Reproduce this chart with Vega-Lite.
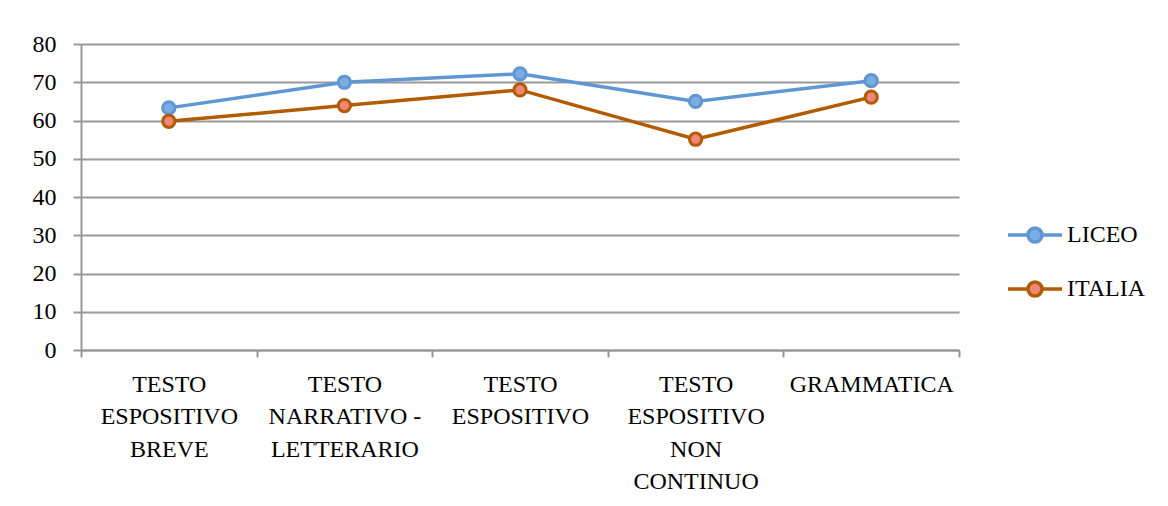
{
  "$schema": "https://vega.github.io/schema/vega-lite/v6.json",
  "width": 878,
  "height": 306,
  "autosize": {"type": "none"},
  "padding": {"left": 81, "top": 44, "right": 209, "bottom": 156},
  "background": "white",
  "config": {
    "view": {"stroke": null},
    "font": "Liberation Serif",
    "style": {"guide-label": {"font": "Liberation Serif", "fontSize": 24, "fill": "black"}},
    "legend": {"labelFont": "Liberation Serif"}
  },
  "data": {
    "values": [
      {"cat": "TESTO|ESPOSITIVO|BREVE", "serie": "LICEO", "value": 63.3},
      {"cat": "TESTO|NARRATIVO -|LETTERARIO", "serie": "LICEO", "value": 70.0},
      {"cat": "TESTO|ESPOSITIVO", "serie": "LICEO", "value": 72.2},
      {"cat": "TESTO|ESPOSITIVO|NON|CONTINUO", "serie": "LICEO", "value": 65.0},
      {"cat": "GRAMMATICA", "serie": "LICEO", "value": 70.4},
      {"cat": "TESTO|ESPOSITIVO|BREVE", "serie": "ITALIA", "value": 59.8},
      {"cat": "TESTO|NARRATIVO -|LETTERARIO", "serie": "ITALIA", "value": 63.9},
      {"cat": "TESTO|ESPOSITIVO", "serie": "ITALIA", "value": 68.0},
      {"cat": "TESTO|ESPOSITIVO|NON|CONTINUO", "serie": "ITALIA", "value": 55.1},
      {"cat": "GRAMMATICA", "serie": "ITALIA", "value": 66.1}
    ]
  },
  "encoding": {
    "x": {
      "field": "cat",
      "type": "nominal",
      "sort": null,
      "scale": {"paddingInner": 0, "paddingOuter": 0},
      "axis": {
        "title": null,
        "labelAngle": 0,
        "tickBand": "extent",
        "tickSize": 7,
        "tickColor": "#999999",
        "tickWidth": 2,
        "domainColor": "#999999",
        "domainWidth": 2,
        "labelFont": "Liberation Serif",
        "labelFontSize": 24,
        "labelColor": "black",
        "labelPadding": 15,
        "labelBaseline": "top",
        "labelLineHeight": 32.5,
        "labelLimit": 0,
        "labelExpr": "split(datum.label, '|')",
        "grid": false
      }
    },
    "y": {
      "field": "value",
      "type": "quantitative",
      "scale": {"domain": [0, 80]},
      "axis": {
        "title": null,
        "values": [0, 10, 20, 30, 40, 50, 60, 70, 80],
        "grid": true,
        "gridColor": "#999999",
        "gridWidth": 2,
        "tickSize": 8,
        "tickColor": "#999999",
        "tickWidth": 2,
        "domainColor": "#999999",
        "domainWidth": 2,
        "labelFont": "Liberation Serif",
        "labelFontSize": 24,
        "labelColor": "black",
        "labelPadding": 17
      }
    }
  },
  "layer": [
    {
      "mark": {"type": "line", "strokeWidth": 3.5},
      "encoding": {
        "stroke": {
          "field": "serie",
          "type": "nominal",
          "scale": {"domain": ["LICEO", "ITALIA"], "range": ["#5F97D2", "#B25B00"]},
          "legend": {
            "title": null,
            "orient": "none",
            "legendX": 925,
            "legendY": 162,
            "symbolType": "M-1,0L-0.26,0M0.26,0L1,0M0.26,0A0.26,0.26 0 1,1 -0.26,0A0.26,0.26 0 1,1 0.26,0Z",
            "symbolSize": 2916,
            "symbolStrokeWidth": 3.5,
            "labelFont": "Liberation Serif",
            "labelFontSize": 24,
            "labelColor": "black",
            "labelOffset": 3,
            "rowPadding": 10,
            "labelLimit": 0
          }
        }
      }
    },
    {
      "mark": {"type": "circle", "size": 150, "strokeWidth": 3, "opacity": 1},
      "encoding": {
        "stroke": {"field": "serie", "type": "nominal"},
        "fill": {
          "field": "serie",
          "type": "nominal",
          "scale": {"domain": ["LICEO", "ITALIA"], "range": ["#7AAEE3", "#F0857A"]},
          "legend": null
        }
      }
    }
  ]
}
